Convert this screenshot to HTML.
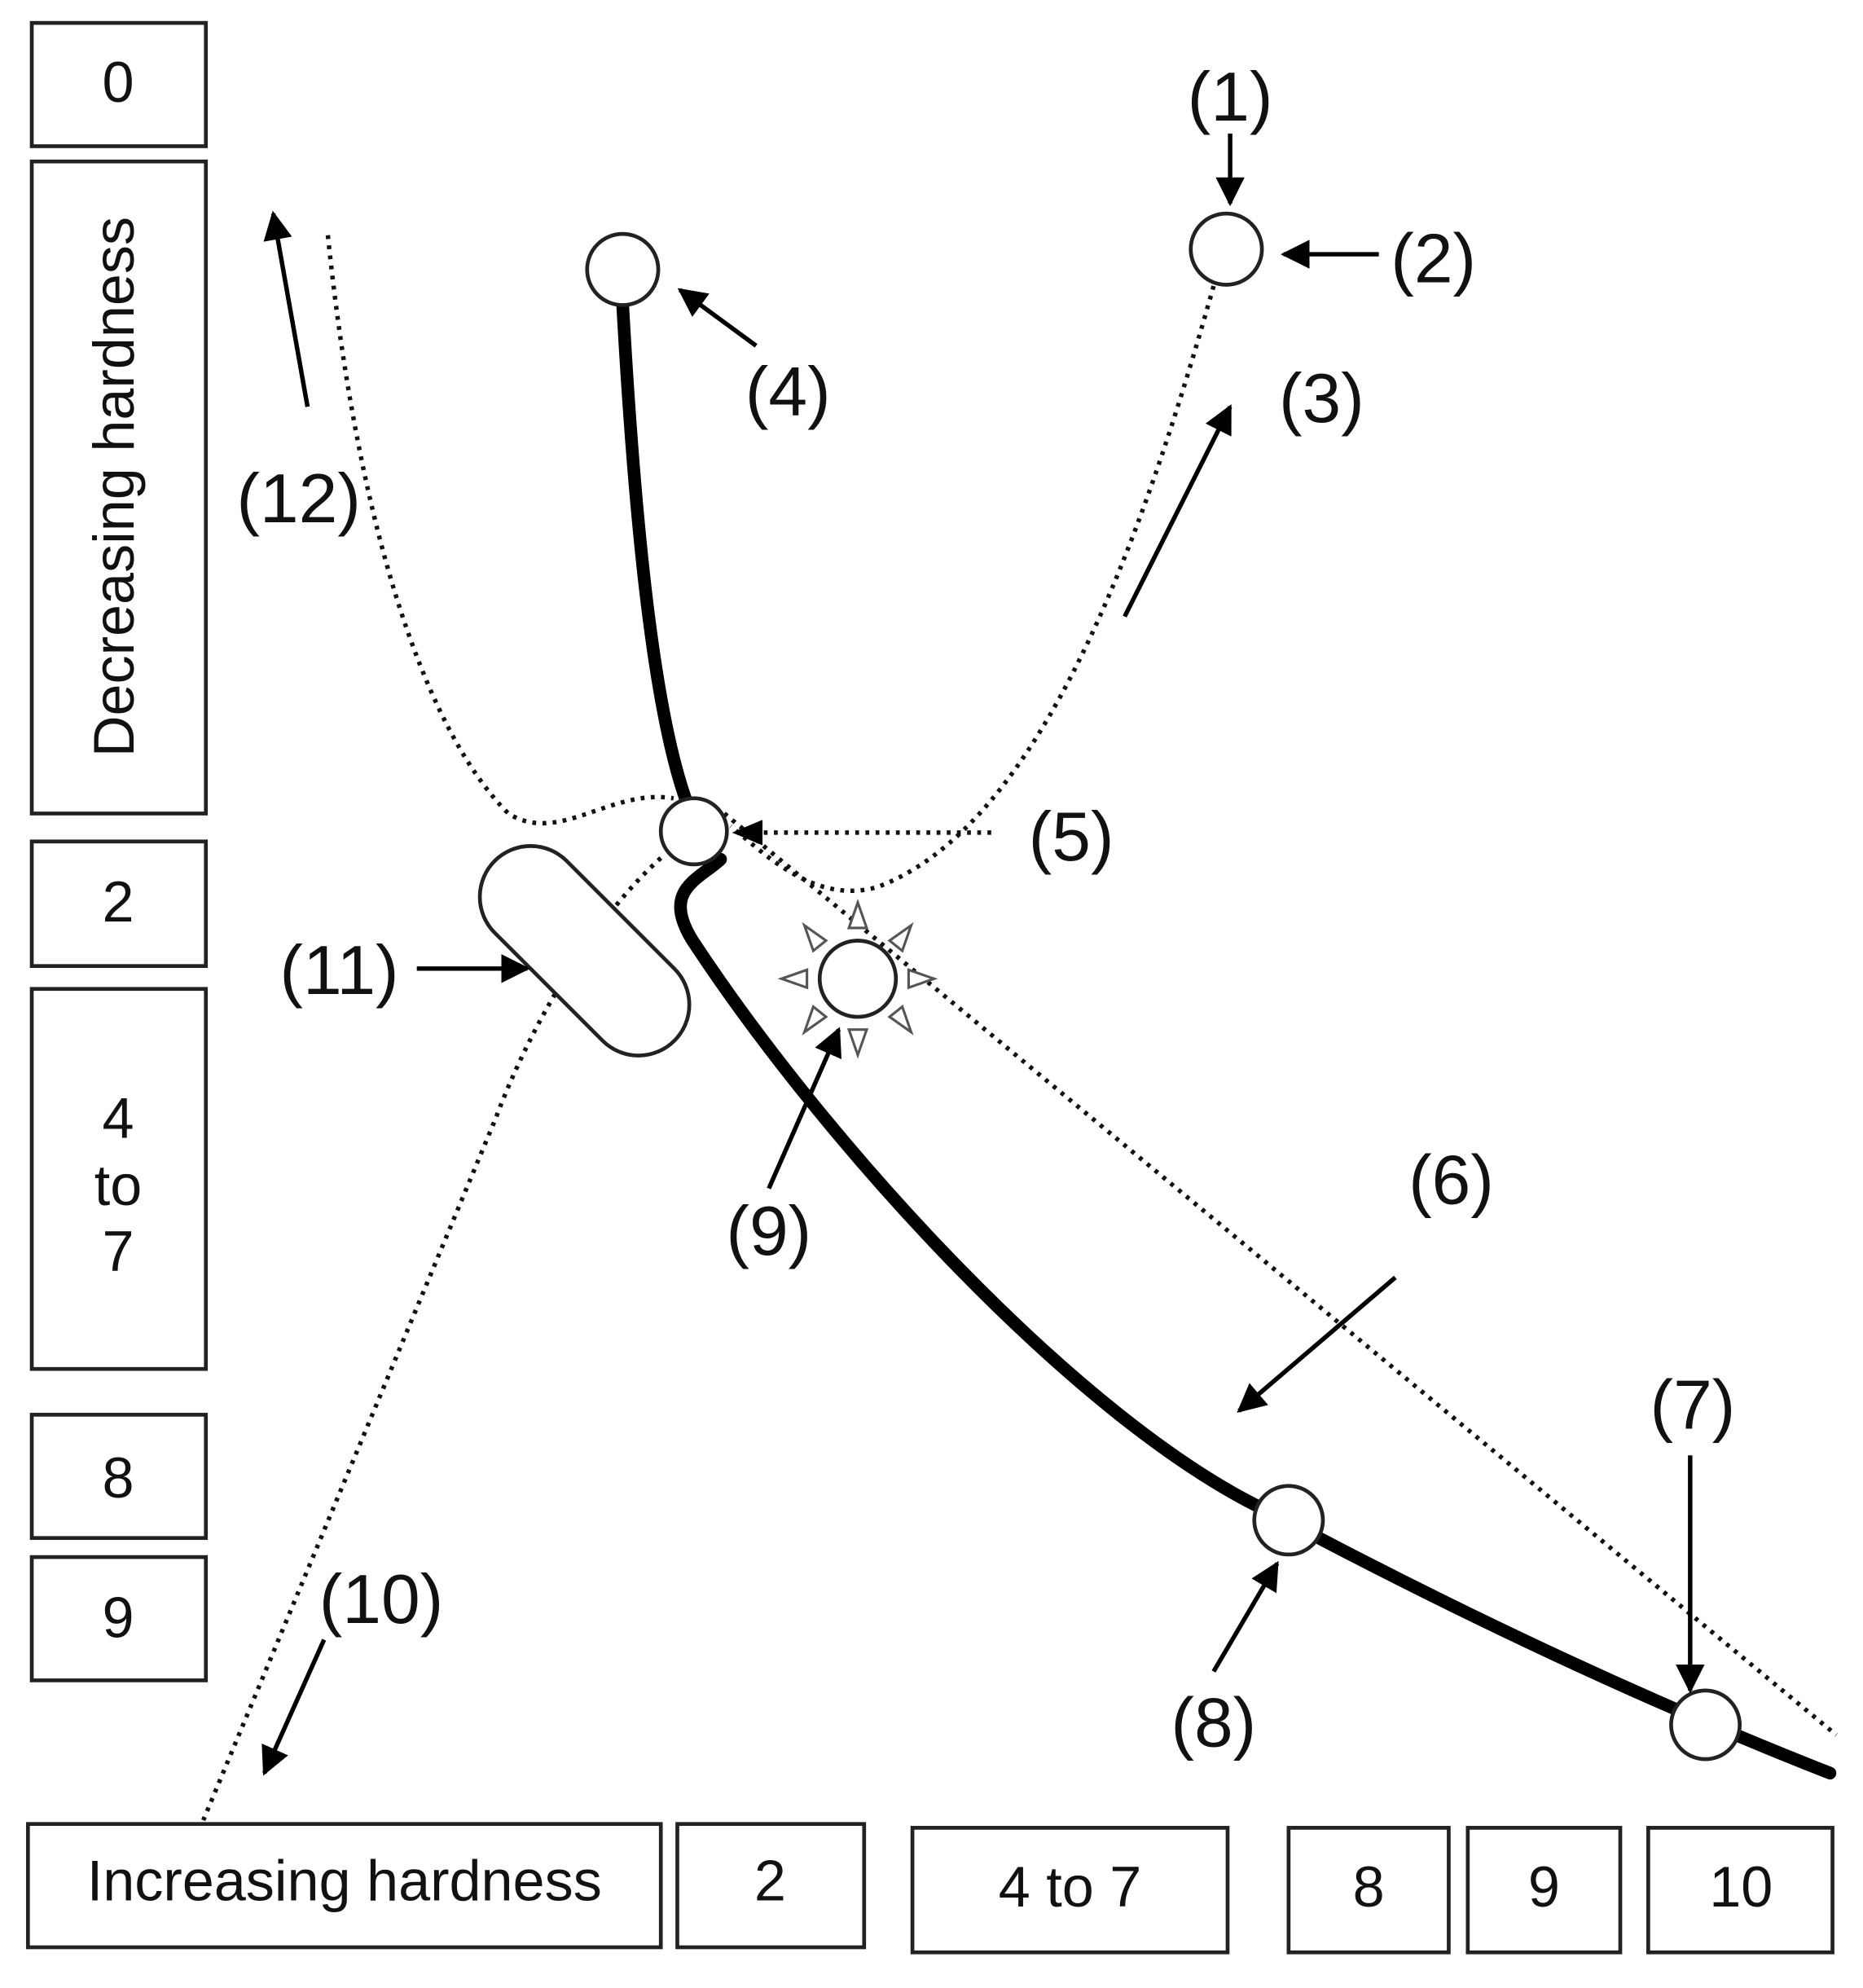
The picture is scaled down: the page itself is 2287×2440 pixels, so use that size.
<!DOCTYPE html>
<html><head><meta charset="utf-8"><style>
html,body{margin:0;padding:0;background:#fff;}
svg{display:block;}
text{font-family:"Liberation Sans",Arial,sans-serif;fill:#111;}
</style></head><body>
<svg width="2287" height="2440" viewBox="0 0 1466 1564" xmlns="http://www.w3.org/2000/svg">
<defs>
<marker id="ah" viewBox="0 0 10 10" refX="9" refY="5" markerWidth="6.5" markerHeight="6.5" orient="auto">
<path d="M0,0 L10,5 L0,10 z" fill="#000"/></marker>
</defs>
<g fill="#fff" stroke="#222" stroke-width="3">
<rect x="25" y="18" width="137" height="97"/>
<rect x="25" y="127" width="137" height="513"/>
<rect x="25" y="662" width="137" height="98"/>
<rect x="25" y="778" width="137" height="299"/>
<rect x="25" y="1113" width="137" height="97"/>
<rect x="25" y="1225" width="137" height="97"/>
<rect x="22" y="1435" width="498" height="97"/>
<rect x="533" y="1435" width="147" height="97"/>
<rect x="718" y="1438" width="248" height="98"/>
<rect x="1014" y="1438" width="126" height="98"/>
<rect x="1155" y="1438" width="120" height="98"/>
<rect x="1297" y="1438" width="145" height="98"/>
</g>
<g font-size="45" text-anchor="middle">
<text x="93" y="80">0</text>
<text x="93" y="725">2</text>
<text x="93" y="895">4</text>
<text x="93" y="948">to</text>
<text x="93" y="1000">7</text>
<text x="93" y="1178">8</text>
<text x="93" y="1288">9</text>
<text transform="translate(105,383) rotate(-90)">Decreasing hardness</text>
<text x="271" y="1495">Increasing hardness</text>
<text x="606" y="1495">2</text>
<text x="842" y="1500">4 to 7</text>
<text x="1077" y="1500">8</text>
<text x="1215" y="1500">9</text>
<text x="1370" y="1500">10</text>
</g>
<g fill="none" stroke="#111" stroke-width="3.5" stroke-dasharray="3,5">
<path d="M258,185 C280,400 330,570 400,640 C440,665 480,620 530,628"/>
<path d="M570,640 L1445,1365"/>
<path d="M955,225 C900,420 820,650 690,698 C640,712 600,670 575,650"/>
<path d="M520,675 C470,720 420,800 390,880 L160,1432"/>
<path d="M780,655 L585,655"/>
</g>
<g fill="none" stroke="#000" stroke-width="10" stroke-linecap="round">
<path d="M490,240 C500,420 515,560 540,630"/>
<path d="M567,676 C550,692 520,700 545,740 C650,900 850,1120 1000,1190 C1150,1270 1300,1340 1440,1395"/>
</g>
<rect x="360" y="708" width="200" height="80" rx="40" fill="#fff" stroke="#222" stroke-width="3" transform="rotate(45 460 748)"/>
<g fill="#fff" stroke="#555" stroke-width="2">
<polygon points="675,710 668,730 682,730"/>
<polygon points="675,830 668,810 682,810"/>
<polygon points="615,770 635,763 635,777"/>
<polygon points="735,770 715,763 715,777"/>
<polygon points="633,728 650,740 640,748"/>
<polygon points="717,728 700,740 710,748"/>
<polygon points="633,812 650,800 640,792"/>
<polygon points="717,812 700,800 710,792"/>
</g>
<g fill="#fff" stroke="#222" stroke-width="3">
<circle cx="490" cy="212" r="28"/>
<circle cx="965" cy="196" r="28"/>
<circle cx="546" cy="654" r="26"/>
<circle cx="675" cy="770" r="30"/>
<circle cx="1014" cy="1196" r="27"/>
<circle cx="1342" cy="1357" r="27"/>
</g>
<g stroke="#000" stroke-width="3.5" marker-end="url(#ah)">
<line x1="968" y1="105" x2="968" y2="160"/>
<line x1="1085" y1="200" x2="1010" y2="200"/>
<line x1="595" y1="272" x2="535" y2="228"/>
<line x1="885" y1="485" x2="968" y2="320"/>
<line x1="242" y1="320" x2="215" y2="168"/>
<line x1="1098" y1="1005" x2="975" y2="1110"/>
<line x1="1330" y1="1145" x2="1330" y2="1330"/>
<line x1="955" y1="1315" x2="1005" y2="1230"/>
<line x1="605" y1="935" x2="660" y2="810"/>
<line x1="255" y1="1290" x2="208" y2="1395"/>
<line x1="328" y1="762" x2="415" y2="762"/>
</g>
<path d="M576,655 L600,645 L600,665 z" fill="#000"/>
<g font-size="55" text-anchor="middle">
<text x="968" y="95">(1)</text>
<text x="1128" y="222">(2)</text>
<text x="1040" y="332">(3)</text>
<text x="620" y="327">(4)</text>
<text x="843" y="677">(5)</text>
<text x="1142" y="947">(6)</text>
<text x="1332" y="1124">(7)</text>
<text x="955" y="1374">(8)</text>
<text x="605" y="987">(9)</text>
<text x="300" y="1277">(10)</text>
<text x="267" y="782">(11)</text>
<text x="235" y="411">(12)</text>
</g>
</svg>
</body></html>
